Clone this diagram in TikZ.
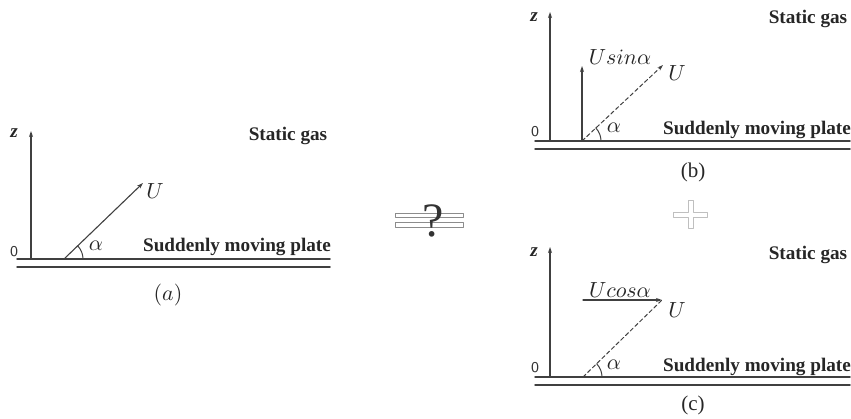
\documentclass[tikz,border=0pt]{standalone}
\usepackage{fontspec}
\setmainfont{Liberation Serif}
\usetikzlibrary{arrows.meta}
\tikzset{
    axisline/.style={draw=black!75, line width=0.55pt, -{Stealth[length=3pt, width=2pt]}},
    plateline/.style={draw=black!75, line width=0.75pt},
    dashline/.style={draw=black!75, line width=0.5pt, dash pattern=on 2pt off 1.3pt},
    veclabel/.style={font=\fontsize{10.5}{12}\selectfont, inner sep=0pt, text=black!85},
    boldlabel/.style={font=\fontsize{9.6}{11}\selectfont\bfseries, inner sep=0pt, text=black!85},
    zerolabel/.style={font=\fontsize{7.5}{9}\sffamily, inner sep=0pt, text=black!80},
}
\begin{document}
\begin{tikzpicture}[x=0.5pt, y=-0.5pt, line cap=round, line join=round]
        \useasboundingbox (0,0) rectangle (851,418);
        % draw panel (a)
        \begin{scope}[shift={(31,259)}]
            \coordinate (a-o) at (0,0);
            \coordinate (a-top) at (0,-128);
            \coordinate (a-foot) at (33,0);
            \coordinate (a-tip) at (112,-76);
            \draw[plateline] (-14,0) -- (299,0) (-14,8) -- (299,8);
            \draw[axisline] (a-o) -- (a-top);
            \draw[axisline] (a-foot) -- (a-tip);
            \draw[black!75, line width=0.5pt] (a-foot) ++(19,0) arc[start angle=0, end angle=-44, radius=19];
            \node[boldlabel] (a-z) at (-17,-126) {\textit{z}};
            \node[zerolabel] (a-zero) at (-17,-7) {0};
            \node[veclabel] (a-U) at (124,-68) {$U$};
            \node[veclabel] (a-alpha) at (65,-13) {$\alpha$};
            \node[boldlabel] (a-gas) at (257,-123) {Static gas};
            \node[boldlabel] (a-plate) at (206,-12) {Suddenly moving plate};
            \node[veclabel] (a-cap) at (137,36) {$(a)$};
        \end{scope}
        % draw equals sign with question mark
        \draw[black!45, line width=0.5pt] (395,213) rectangle (463,217) (395,222) rectangle (463,227);
        \node[font=\fontsize{24}{26}\selectfont, text=black!80, inner sep=0pt] (ask) at (433,221) {?};
        % draw plus sign
        \draw[black!25, line width=0.5pt] (673,212) -- (688,212) -- (688,200) -- (693,200) -- (693,212) -- (707,212) -- (707,217) -- (693,217) -- (693,228) -- (688,228) -- (688,217) -- (673,217) -- cycle;
        % draw panel (b)
        \begin{scope}[shift={(550,141)}]
            \coordinate (b-o) at (0,0);
            \coordinate (b-top) at (0,-129);
            \coordinate (b-foot) at (32,0);
            \coordinate (b-up) at (32,-75);
            \coordinate (b-tip) at (113,-76);
            \draw[plateline] (-15,0) -- (300,0) (-15,8) -- (300,8);
            \draw[axisline] (b-o) -- (b-top);
            \draw[axisline] (b-foot) -- (b-up);
            \draw[dashline, -{Stealth[length=3pt, width=2pt]}] (b-foot) -- (b-tip);
            \draw[black!75, line width=0.5pt] (b-foot) ++(19,0) arc[start angle=0, end angle=-44, radius=19];
            \node[boldlabel] (b-z) at (-16,-124) {\textit{z}};
            \node[zerolabel] (b-zero) at (-15,-9) {0};
            \node[veclabel] (b-U) at (127,-68) {$U$};
            \node[veclabel] (b-sin) at (70,-84) {$Usin\alpha$};
            \node[veclabel] (b-alpha) at (64,-13) {$\alpha$};
            \node[boldlabel] (b-gas) at (258,-122) {Static gas};
            \node[boldlabel] (b-plate) at (207,-11) {Suddenly moving plate};
            \node[veclabel, font=\fontsize{10.5}{12}\selectfont] (b-cap) at (143,31) {(b)};
        \end{scope}
        % draw panel (c)
        \begin{scope}[shift={(550,377)}]
            \coordinate (c-o) at (0,0);
            \coordinate (c-top) at (0,-130);
            \coordinate (c-foot) at (33,0);
            \coordinate (c-left) at (33,-77);
            \coordinate (c-tip) at (112,-77);
            \draw[plateline] (-15,0) -- (300,0) (-15,8) -- (300,8);
            \draw[axisline] (c-o) -- (c-top);
            \draw[axisline] (c-left) -- (c-tip);
            \draw[dashline] (c-foot) -- (c-tip);
            \draw[black!75, line width=0.5pt] (c-foot) ++(19,0) arc[start angle=0, end angle=-44, radius=19];
            \node[boldlabel] (c-z) at (-16,-125) {\textit{z}};
            \node[zerolabel] (c-zero) at (-15,-9) {0};
            \node[veclabel] (c-U) at (127,-67) {$U$};
            \node[veclabel] (c-cos) at (70,-87) {$Ucos\alpha$};
            \node[veclabel] (c-alpha) at (64,-12) {$\alpha$};
            \node[boldlabel] (c-gas) at (258,-122) {Static gas};
            \node[boldlabel] (c-plate) at (207,-10) {Suddenly moving plate};
            \node[veclabel] (c-cap) at (143,28) {(c)};
        \end{scope}
\end{tikzpicture}
\end{document}
